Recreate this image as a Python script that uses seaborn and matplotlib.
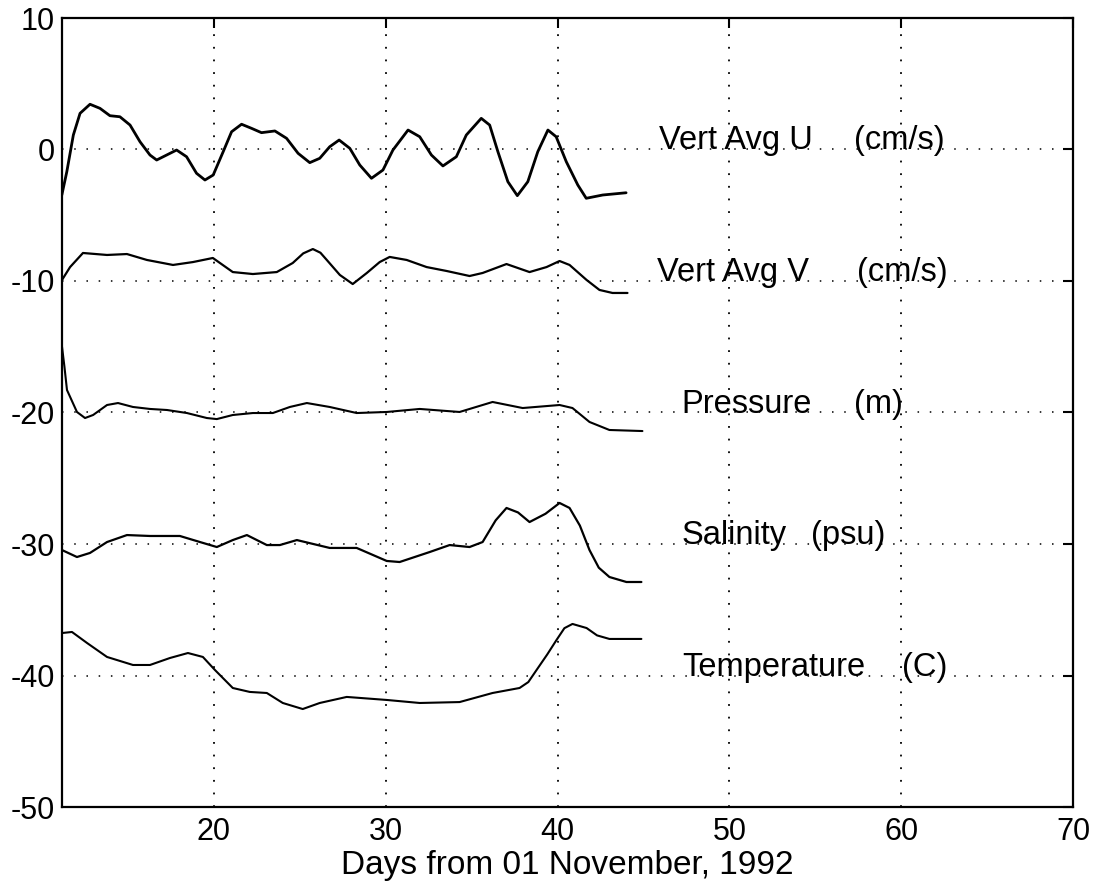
import numpy as np
import pandas as pd
import matplotlib
matplotlib.use("Agg")
import matplotlib.pyplot as plt
import seaborn as sns

# ---------------- data ----------------
u_x = [11.15, 11.44, 11.82, 12.21, 12.79, 13.37, 13.95, 14.53, 15.12, 15.70, 16.28, 16.67,
       17.25, 17.83, 18.41, 18.99, 19.48, 19.96, 20.54, 21.03, 21.61, 22.19, 22.77, 23.55,
       24.23, 24.90, 25.58, 26.16, 26.74, 27.29, 27.91, 28.49, 29.17, 29.84, 30.42, 31.30,
       31.98, 32.66, 33.33, 34.11, 34.69, 35.56, 36.05, 36.53, 37.11, 37.66, 38.27, 38.85,
       39.44, 39.92, 40.51, 41.18, 41.67, 42.63, 43.99]
u_y = [-3.46, -1.69, 1.10, 2.75, 3.44, 3.13, 2.57, 2.49, 1.86, 0.59, -0.42, -0.80,
       -0.42, -0.04, -0.55, -1.81, -2.32, -1.94, -0.17, 1.35, 1.92, 1.61, 1.28, 1.41,
       0.85, -0.29, -1.00, -0.67, 0.21, 0.72, 0.09, -1.18, -2.19, -1.56, -0.04, 1.48,
       0.97, -0.42, -1.25, -0.55, 1.10, 2.37, 1.86, -0.17, -2.45, -3.51, -2.45, -0.17,
       1.48, 0.97, -0.93, -2.70, -3.71, -3.46, -3.29]

v_x = [11.16, 11.63, 12.38, 13.78, 14.94, 16.10, 17.62, 18.78, 19.94, 21.10, 22.27,
       23.66, 24.59, 25.20, 25.76, 26.20, 26.57, 27.33, 28.08, 28.90, 29.65, 30.23, 31.22, 32.38,
       33.55, 34.88, 35.64, 37.03, 38.37, 39.36, 40.12, 40.70, 41.69, 42.44, 43.20, 44.07]
v_y = [-9.92, -8.94, -7.87, -8.02, -7.95, -8.40, -8.78, -8.56, -8.25, -9.32, -9.47,
       -9.32, -8.63, -7.90, -7.57, -7.85, -8.40, -9.54, -10.23, -9.39, -8.56, -8.17, -8.40, -8.94,
       -9.24, -9.62, -9.39, -8.71, -9.32, -8.94, -8.48, -8.78, -9.92, -10.68, -10.91, -10.91]

p_x = [11.16, 11.30, 11.45, 12.03, 12.50, 12.97, 13.78, 14.42, 15.29, 16.28, 17.27,
       18.43, 19.59, 20.17, 21.10, 22.27, 23.43, 24.42, 25.41, 26.74, 28.31, 30.06,
       31.98, 34.30, 36.22, 37.97, 40.12, 40.87, 41.86, 43.02, 44.94]
p_y = [-15.0, -16.5, -18.29, -19.96, -20.42, -20.19, -19.43, -19.28, -19.58, -19.73, -19.81,
       -20.04, -20.42, -20.50, -20.19, -20.04, -20.04, -19.58, -19.28, -19.58, -20.04, -19.96,
       -19.73, -19.96, -19.20, -19.66, -19.43, -19.66, -20.72, -21.33, -21.41]

s_x = [11.16, 12.03, 12.79, 13.78, 14.94, 16.28, 18.02, 19.19, 20.17, 21.10, 21.92,
       23.08, 23.84, 24.83, 26.74, 28.31, 30.06, 30.81, 32.56, 33.72, 34.88, 35.64,
       36.40, 37.03, 37.70, 38.37, 39.30, 40.12, 40.70, 41.30, 41.86, 42.40, 43.02, 44.01, 44.88]
s_y = [-30.46, -30.99, -30.68, -29.85, -29.32, -29.39, -29.39, -29.85, -30.23, -29.70, -29.32,
       -30.08, -30.08, -29.70, -30.30, -30.30, -31.29, -31.37, -30.61, -30.08, -30.23, -29.85,
       -28.20, -27.26, -27.60, -28.33, -27.70, -26.88, -27.26, -28.60, -30.46, -31.80, -32.51, -32.89, -32.89]

t_x = [11.16, 11.74, 12.62, 13.78, 15.29, 16.28, 17.44, 18.49, 19.36, 20.06, 21.10,
       22.09, 23.08, 24.01, 25.17, 26.16, 27.73, 30.06, 31.98, 34.30, 36.22, 37.79,
       38.30, 38.78, 39.40, 39.94, 40.40, 40.87, 41.69, 42.30, 43.02, 44.88]
t_y = [-36.77, -36.69, -37.53, -38.59, -39.20, -39.20, -38.67, -38.29, -38.59, -39.58, -40.95,
       -41.25, -41.33, -42.09, -42.55, -42.09, -41.63, -41.86, -42.09, -42.02, -41.33, -40.95,
       -40.50, -39.58, -38.40, -37.30, -36.40, -36.08, -36.39, -36.95, -37.22, -37.22]

names = ["Vert Avg U", "Vert Avg V", "Pressure", "Salinity", "Temperature"]
units = ["(cm/s)", "(cm/s)", "(m)", "(psu)", "(C)"]
name_x = [45.93, 45.81, 47.21, 47.20, 47.27]
unit_x = [57.27, 57.40, 57.27, 54.77, 60.06]
label_y = [0, -10, -20, -30, -40]

x_ticks = [20, 30, 40, 50, 60, 70]
y_ticks = [10, 0, -10, -20, -30, -40, -50]
x_label = "Days from 01 November, 1992"

# ---------------- plotting ----------------
sns.set_theme(style="white")
plt.rcParams["font.family"] = ["Liberation Sans", "DejaVu Sans"]

fig = plt.figure(figsize=(10.94, 8.88), dpi=100)
ax = fig.add_axes([62 / 1094, (888 - 807) / 888, (1073 - 62) / 1094, (807 - 18) / 888])

series = [(u_x, u_y, 2.0), (v_x, v_y, 1.6), (p_x, p_y, 1.5), (s_x, s_y, 1.6), (t_x, t_y, 1.5)]
for xs, ys, lw in series:
    df = pd.DataFrame({"day": xs, "val": ys})
    sns.lineplot(data=df, x="day", y="val", ax=ax, color="black", lw=lw,
                 estimator=None, sort=False, legend=False,
                 solid_joinstyle="round", solid_capstyle="round")

for nm, un, nx, ux, ly in zip(names, units, name_x, unit_x, label_y):
    ax.text(nx, ly, nm, fontsize=23.5, va="baseline", ha="left", color="black")
    ax.text(ux, ly, un, fontsize=23.5, va="baseline", ha="left", color="black")

ax.set_xlim(11.16, 70)
ax.set_ylim(-50, 10)
ax.set_xticks(x_ticks)
ax.set_yticks(y_ticks)
ax.set_xticklabels([str(t) for t in x_ticks])
ax.set_yticklabels([str(t) for t in y_ticks])
ax.set_xlabel(x_label, fontsize=24, labelpad=2, color="black")
ax.set_ylabel("")

# grid: dotted, only interior lines
for gx in [20, 30, 40, 50, 60]:
    ax.axvline(gx, color="black", lw=1.3, linestyle=(0, (1, 6)), zorder=0)
for gy in [0, -10, -20, -30, -40]:
    ax.axhline(gy, color="black", lw=1.1, linestyle=(0, (1, 7)), zorder=0)

ax.tick_params(axis="both", which="major", direction="in", length=7, width=1.5,
               labelsize=22, colors="black", top=True, right=True,
               labeltop=False, labelright=False)
ax.tick_params(axis="x", pad=7)
ax.tick_params(axis="y", pad=5)
for sp in ax.spines.values():
    sp.set_visible(True)
    sp.set_color("black")
    sp.set_linewidth(1.6)

fig.savefig("out.png", dpi=100, facecolor="white")
